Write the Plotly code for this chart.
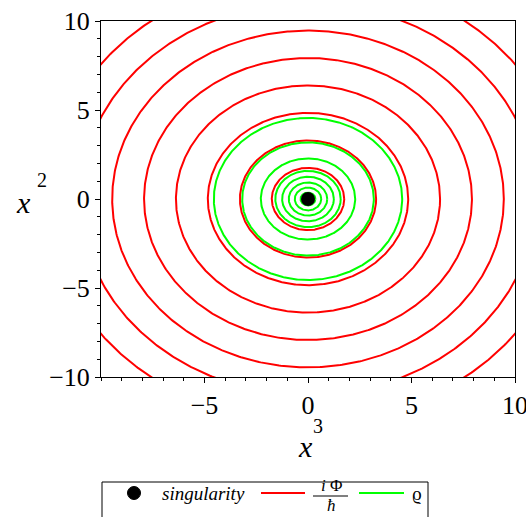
import numpy as np
import plotly.graph_objects as go

# contour levels (radii in data units)
red_radii = [1.75, 3.29, 4.84, 6.38, 7.92, 9.46, 11.0, 12.55]
green_radii = [0.36, 0.64, 0.93, 1.25, 1.58, 2.28, 3.18, 4.55]
singularity_x = [0]
singularity_y = [0]

x_ticks = [-5, 0, 5, 10]
y_ticks = [-10, -5, 0, 5, 10]

legend_labels = ["<i>singularity</i>", "<i>i</i> Φ", "<i>ħ</i>", "ϱ"]

theta = np.linspace(0, 2 * np.pi, 721)
FONT = "Liberation Serif"
W, H = 526, 517
L, R, T, B = 101, 11, 21, 140
PW, PH = W - L - R, H - T - B


def px(x):
    return (x - L) / PW


def py(y):
    return (H - B - y) / PH


fig = go.Figure()


def rings(radii, color):
    xs, ys = [], []
    for r in radii:
        xs += list(r * np.cos(theta)) + [None]
        ys += list(r * np.sin(theta)) + [None]
    fig.add_trace(go.Scatter(x=xs, y=ys, mode="lines", showlegend=False,
                             line=dict(color=color, width=2)))


rings(red_radii, "#ff0000")
rings(green_radii, "#00ff00")
fig.add_trace(go.Scatter(x=singularity_x, y=singularity_y, mode="markers",
                         showlegend=False,
                         marker=dict(color="black", size=14)))

axis_common = dict(showline=True, linecolor="black", linewidth=1, mirror=True,
                   showgrid=False, zeroline=False, ticks="outside",
                   ticklen=5, tickcolor="black", ticklabeloverflow="allow",
                   tickfont=dict(family=FONT, size=26, color="black"),
                   minor=dict(dtick=1, tick0=0, ticks="outside", ticklen=3,
                              tickcolor="black", showgrid=False))

fig.update_xaxes(range=[-10, 10], tickmode="array", tickvals=x_ticks, **axis_common)
fig.update_yaxes(range=[-10, 10], tickmode="array", tickvals=y_ticks, **axis_common)

# manual legend (box, symbols, labels)
ly = 493
shapes = [
    dict(type="rect", xref="paper", yref="paper", x0=px(102), x1=px(428),
         y0=py(482), y1=py(540), line=dict(color="black", width=1),
         fillcolor="rgba(0,0,0,0)"),
    dict(type="circle", xref="paper", yref="paper", x0=px(127.5), x1=px(140.5),
         y0=py(486.5), y1=py(499.5), line=dict(color="black", width=1),
         fillcolor="black"),
    dict(type="line", xref="paper", yref="paper", x0=px(261), x1=px(305),
         y0=py(ly), y1=py(ly), line=dict(color="#ff0000", width=2)),
    dict(type="line", xref="paper", yref="paper", x0=px(313), x1=px(348),
         y0=py(496), y1=py(496), line=dict(color="black", width=1)),
    dict(type="line", xref="paper", yref="paper", x0=px(359), x1=px(404),
         y0=py(ly), y1=py(ly), line=dict(color="#00ff00", width=2)),
]

lfont = dict(family=FONT, size=19, color="black")
tfont = dict(family=FONT, size=30, color="black")
sfont = dict(family=FONT, size=20, color="black")


def ann(text, x, y, font, xanchor="center"):
    return dict(text=text, xref="paper", yref="paper", x=px(x), y=py(y),
                xanchor=xanchor, yanchor="middle", showarrow=False, font=font)


annotations = [
    ann("<i>x</i>", 23, 202, tfont),
    ann("2", 42, 180, sfont),
    ann("<i>x</i>", 305, 446, tfont),
    ann("3", 318, 426, sfont),
    ann(legend_labels[0], 160, ly, lfont, "left"),
    ann(legend_labels[1], 331, 485, dict(family=FONT, size=17, color="black")),
    ann(legend_labels[2], 331, 505.5, dict(family=FONT, size=17, color="black")),
    ann(legend_labels[3], 410, ly, lfont, "left"),
]

fig.update_layout(
    width=W, height=H,
    margin=dict(l=L, r=R, t=T, b=B, autoexpand=False),
    plot_bgcolor="white", paper_bgcolor="white",
    showlegend=False,
    shapes=shapes,
    annotations=annotations,
)

fig.write_html("out.html")
